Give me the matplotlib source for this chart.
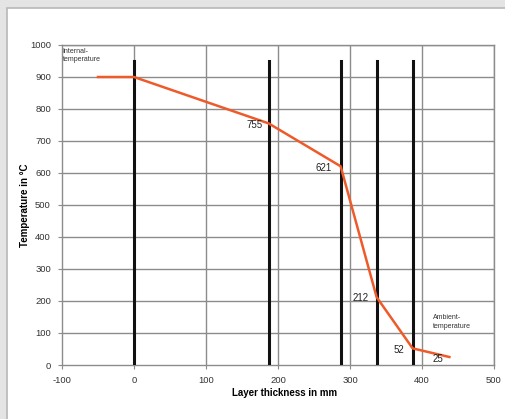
import matplotlib
matplotlib.use("Agg")
import matplotlib.pyplot as plt
from matplotlib.patches import Rectangle

plt.rcParams['font.family'] = ['Liberation Sans', 'DejaVu Sans']
plt.rcParams['axes.unicode_minus'] = False

# temperature profile through the wall
thickness = [-50, 0, 187, 287, 337, 387, 438]
temperature = [900, 900, 755, 621, 212, 52, 25]

# layer boundaries
layer_x = [0, 187, 287, 337, 387]
layer_top = 950

# point labels (value text, placed next to the kinks)
label_txt = ['755', '621', '212', '52', '25']
label_x = [178, 275, 326, 376, 414]
label_y = [750, 616, 209, 47, 19]
label_ha = ['right', 'right', 'right', 'right', 'left']

x_ticks = [-100, 0, 100, 200, 300, 400, 500]
y_ticks = [0, 100, 200, 300, 400, 500, 600, 700, 800, 900, 1000]

fig = plt.figure(figsize=(5.06, 4.19), dpi=100)
fig.patch.set_facecolor('white')

# card background / frame
fig.add_artist(Rectangle((0, 0), 1, 1, transform=fig.transFigure,
                         facecolor='#e4e4e4', edgecolor='none', zorder=-3))
fig.add_artist(Rectangle((7/506, -0.1), 1.1, 1.1 - 8/419, transform=fig.transFigure,
                         facecolor='white', edgecolor='#b8b8b8', lw=1.2, zorder=-2))

ax = fig.add_axes([62/506, 1 - 365/419, 432/506, 320/419])
ax.set_xlim(-100, 500)
ax.set_ylim(0, 1000)

# grid
for xv in x_ticks[1:]:
    ax.axvline(xv, color='#8c8c8c', lw=1.0, zorder=1)
for yv in y_ticks[1:]:
    ax.axhline(yv, color='#8c8c8c', lw=1.0, zorder=1)

for xv in layer_x:
    ax.plot([xv, xv], [0, layer_top], color='#111111', lw=2.2, zorder=3)

ax.plot(thickness, temperature, color='#ee5a2a', lw=1.8, zorder=4)

for x, y, t, ha in zip(label_x, label_y, label_txt, label_ha):
    ax.text(x, y, t, ha=ha, va='center', fontsize=7, color='#222222', zorder=5)

ax.text(-99, 992, 'Internal-\ntemperature', ha='left', va='top', fontsize=5, color='#333333',
        linespacing=1.3, zorder=5)
ax.text(415, 158, 'Ambient-\ntemperature', ha='left', va='top', fontsize=5, color='#333333',
        linespacing=1.3, zorder=5)

ax.set_xticks(x_ticks)
ax.set_yticks(y_ticks)
ax.tick_params(labelsize=6.8, length=3, width=0.8, color='#8c8c8c', labelcolor='#333333')
ax.tick_params(axis='x', pad=5)
ax.tick_params(axis='y', pad=5)
for side in ['left', 'bottom', 'top', 'right']:
    ax.spines[side].set_color('#8c8c8c')
    ax.spines[side].set_linewidth(1.0)

ax.set_xlabel('Layer thickness in mm', fontsize=7, fontweight='bold')
ax.xaxis.set_label_coords(0.516, -0.072)
ax.set_ylabel('Temperature in °C', fontsize=7, fontweight='bold')
ax.yaxis.set_label_coords(-0.075, 0.5)

fig.savefig('out.png', dpi=100, facecolor=fig.get_facecolor())
